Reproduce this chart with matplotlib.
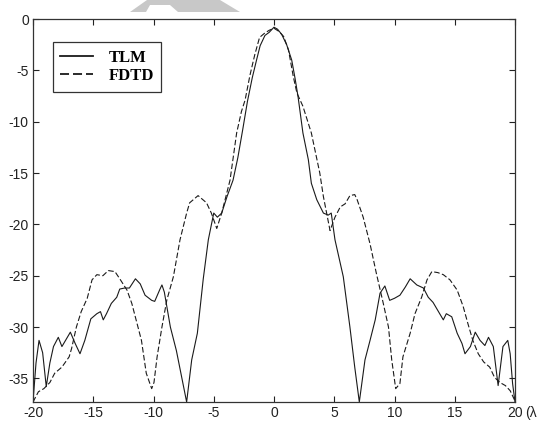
import matplotlib
matplotlib.use("Agg")
import matplotlib.pyplot as plt
from matplotlib.patches import Polygon

# ---- data ----
tlm_x = [-20, -19.75, -19.5, -19.2, -18.9, -18.6, -18.3, -17.9, -17.6, -17.25,
         -16.9, -16.5, -16.1, -15.7, -15.2, -14.7, -14.4, -14.17, -13.9, -13.5,
         -13.05, -12.8, -12.4, -12.0, -11.5, -11.1, -10.7, -10.15, -9.9, -9.46,
         -9.3, -9.1, -8.6, -8.1, -7.25, -6.83, -6.36, -5.87, -5.45, -5.0,
         -4.7, -4.34, -3.9, -3.4, -3.0, -2.6, -2.2, -1.8, -1.45, -1.15,
         -0.75, -0.4, 0.0, 0.3, 0.64, 1.05, 1.47, 1.75, 2.0, 2.4,
         2.85, 3.1, 3.55, 4.1, 4.5, 4.75, 5.06, 5.75, 6.3, 6.7,
         7.08, 7.55, 7.97, 8.4, 8.8, 9.2, 9.6, 10.0, 10.45, 10.9,
         11.3, 11.85, 12.4, 12.8, 13.2, 13.6, 14.05, 14.3, 14.75, 15.2,
         15.6, 15.85, 16.3, 16.7, 17.1, 17.5, 17.8, 18.2, 18.6, 19.0,
         19.4, 19.6, 19.8, 20]
tlm_y = [-37.3, -33.5, -31.3, -32.5, -35.8, -33.5, -31.9, -31.0, -31.9, -31.2,
         -30.5, -31.6, -32.6, -31.3, -29.2, -28.7, -28.5, -29.3, -28.7, -27.7,
         -27.1, -26.3, -26.2, -26.2, -25.3, -25.8, -26.9, -27.4, -27.5, -26.3,
         -25.9, -26.6, -30.0, -32.3, -37.3, -33.2, -30.6, -25.3, -21.5, -18.9,
         -19.3, -18.9, -17.3, -15.7, -13.5, -10.8, -8.0, -5.7, -4.0, -2.6,
         -1.6, -1.3, -0.8, -1.0, -1.5, -2.5, -4.0, -5.8, -7.6, -11.1,
         -13.7, -16.0, -17.6, -18.9, -19.1, -18.9, -21.5, -25.1, -30.0, -33.9,
         -37.3, -33.2, -31.3, -29.3, -26.7, -26.0, -27.4, -27.2, -26.9, -26.1,
         -25.3, -25.9, -26.2, -27.1, -27.6, -28.4, -29.3, -28.7, -29.0, -30.6,
         -31.6, -32.6, -31.9, -30.5, -31.3, -31.8, -31.0, -31.9, -35.7, -31.9,
         -31.3, -32.6, -35.5, -37.3]

fdtd_x = [-20, -19.55, -19.1, -18.6, -18.2, -17.6, -17.0, -16.8, -16.4, -16.0,
          -15.5, -15.1, -14.7, -14.2, -13.75, -13.2, -12.8, -12.2, -11.8, -11.4,
          -11.0, -10.6, -10.15, -9.96, -9.7, -9.3, -8.9, -8.35, -7.8, -7.25,
          -7.0, -6.3, -5.6, -5.2, -4.75, -4.34, -3.65, -3.1, -2.7, -2.4,
          -2.0, -1.6, -1.2, -0.8, -0.4, 0.0, 0.4, 0.8, 1.2, 1.6,
          1.9, 2.4, 3.1, 3.8, 4.1, 4.65, 5.06, 5.5, 5.9, 6.3,
          6.7, 6.9, 7.4, 7.97, 8.5, 9.07, 9.5, 9.77, 10.1, 10.45,
          10.7, 11.3, 11.7, 12.25, 12.7, 13.1, 13.6, 14.05, 14.6, 15.2,
          15.7, 16.1, 16.5, 16.95, 17.4, 17.9, 18.3, 18.75, 19.2, 19.6,
          20]
fdtd_y = [-37.3, -36.3, -36.0, -35.4, -34.5, -33.9, -32.9, -32.1, -30.0, -28.5,
          -27.2, -25.4, -24.9, -25.0, -24.5, -24.6, -25.3, -26.4, -27.7, -29.5,
          -31.3, -34.5, -36.0, -35.4, -32.9, -30.0, -27.4, -25.1, -21.5, -18.9,
          -17.9, -17.2, -17.9, -18.9, -20.4, -18.9, -15.7, -11.1, -9.0, -7.9,
          -5.5, -3.5, -1.8, -1.4, -1.1, -0.9, -1.2, -1.7, -3.0, -5.6,
          -7.2, -8.5, -11.1, -15.0, -17.3, -20.6, -19.3, -18.3, -18.0, -17.2,
          -17.1, -17.6, -19.3, -21.9, -24.8, -27.7, -30.0, -33.2, -36.0, -35.5,
          -32.9, -30.6, -28.7, -27.1, -25.4, -24.6, -24.7, -24.9, -25.4, -26.4,
          -28.0, -29.7, -31.3, -32.6, -33.4, -33.9, -34.9, -35.4, -35.7, -36.2,
          -37.2]

series_labels = ["TLM", "FDTD"]
x_ticks = [-20, -15, -10, -5, 0, 5, 10, 15, 20]
y_ticks = [0, -5, -10, -15, -20, -25, -30, -35]
x_unit = "(λ"

# ---- figure ----
W, H = 551, 423
fig = plt.figure(figsize=(W / 100, H / 100), dpi=100)
fig.patch.set_facecolor("white")

# faint grey watermark shape at top
fig.patches.append(Polygon([(130 / W, 1 - 12 / H), (147 / W, 1.0), (220 / W, 1.0),
                            (240 / W, 1 - 12 / H), (178 / W, 1 - 12 / H),
                            (170 / W, 1 - 5 / H), (150 / W, 1 - 5 / H),
                            (146 / W, 1 - 12 / H)],
                           closed=True, transform=fig.transFigure,
                           facecolor="#c8c8c8", edgecolor="none", zorder=0))

ax = fig.add_axes([33 / W, 1 - 402 / H, (515 - 33) / W, (402 - 19) / H])

ax.plot(tlm_x, tlm_y, color="#1a1a1a", lw=0.8, label=series_labels[0])
ax.plot(fdtd_x, fdtd_y, color="#1a1a1a", lw=0.8, linestyle=(0, (5, 2.2)),
        label=series_labels[1])

ax.set_xlim(-20, 20)
ax.set_ylim(-37.3, 0)
ax.set_xticks(x_ticks)
ax.set_yticks(y_ticks)
ax.set_xticklabels([str(t) for t in x_ticks])
ax.set_yticklabels([str(t) for t in y_ticks])
ax.tick_params(direction="in", length=4, width=0.8, top=True, right=True,
               labelsize=10, colors="#222222", pad=3)
for lab in ax.get_xticklabels() + ax.get_yticklabels():
    lab.set_fontfamily("Liberation Sans")
for s in ax.spines.values():
    s.set_color("#333333")
    s.set_linewidth(0.9)

fig.text(525 / W, 1 - 413 / H, x_unit, fontsize=10, family="Liberation Sans",
         va="center", ha="left", color="#222222")

leg = ax.legend(loc="upper left", bbox_to_anchor=(19.5 / 482, 1 - 23 / 383),
                frameon=True, fancybox=False, edgecolor="#333333",
                framealpha=1, handlelength=1.95, handletextpad=0.95,
                borderpad=0.45, labelspacing=0.15, borderaxespad=0,
                prop={"family": "Liberation Serif", "weight": "bold", "size": 12})
leg.get_frame().set_linewidth(0.9)
for h in leg.get_lines():
    h.set_linewidth(1.3)

fig.savefig("out.png", dpi=100)
